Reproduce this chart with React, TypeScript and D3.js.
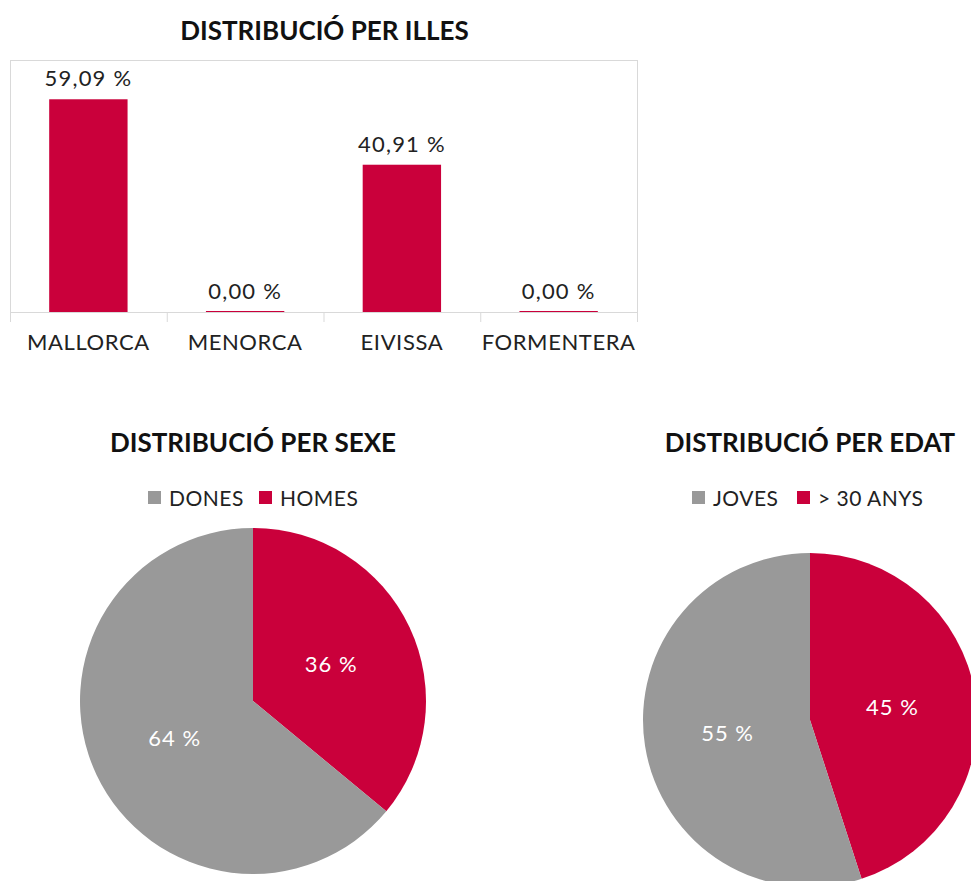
import * as d3 from "d3";

const RED = "#CA003B";
const GRAY = "#999999";
const FONT = "Lato, 'Open Sans', sans-serif";

// bar chart data
const islands = ["MALLORCA", "MENORCA", "EIVISSA", "FORMENTERA"];
const islandShares = [59.09, 0, 40.91, 0];

// sex pie
const sexLabels = ["HOMES", "DONES"];
const sexShares = [36, 64];

// age pie
const ageLabels = ["> 30 ANYS", "JOVES"];
const ageShares = [45, 55];

const fmt = (v: number) => v.toFixed(2).replace(".", ",") + " %";

const BarChart = () => {
  const left = 10;
  const right = 637;
  const top = 60;
  const bottom = 312;

  const x = d3
    .scaleBand<string>()
    .domain(islands)
    .range([left, right])
    .paddingInner(0.5)
    .paddingOuter(0.25);
  const y = d3.scaleLinear().domain([0, 70]).range([bottom, top]);
  const step = x.step();

  return (
    <g>
      <text
        x={(left + right) / 2 + 1}
        y={40}
        textAnchor="middle"
        fontSize={26}
        fontWeight={700}
        fontFamily={FONT}
        fill="#111"
      >
        DISTRIBUCIÓ PER ILLES
      </text>
      <rect
        x={left + 0.5}
        y={top + 0.5}
        width={right - left}
        height={bottom - top}
        fill="none"
        stroke="#D9D9D9"
      />
      {islands.map((c, i) => {
        const h = bottom - y(islandShares[i]);
        return (
          <g key={c}>
            <rect
              x={x(c)}
              y={h > 1 ? y(islandShares[i]) : bottom - 1}
              width={x.bandwidth()}
              height={Math.max(h, 1)}
              fill={RED}
            />
            <text
              x={x(c)! + x.bandwidth() / 2}
              y={y(islandShares[i]) - 13}
              textAnchor="middle"
              fontSize={22}
              letterSpacing={1.2}
              fontFamily={FONT}
              fill="#222"
            >
              {fmt(islandShares[i])}
            </text>
            <text
              x={x(c)! + x.bandwidth() / 2}
              y={350}
              textAnchor="middle"
              fontSize={22}
              letterSpacing={0.6}
              fontFamily={FONT}
              fill="#222"
            >
              {c}
            </text>
          </g>
        );
      })}
      <line x1={left} x2={right} y1={bottom + 0.5} y2={bottom + 0.5} stroke="#D9D9D9" />
      {d3.range(islands.length + 1).map((i) => (
        <line
          key={i}
          x1={left + i * step + 0.5}
          x2={left + i * step + 0.5}
          y1={bottom}
          y2={bottom + 10}
          stroke="#D9D9D9"
        />
      ))}
    </g>
  );
};

type PieProps = {
  cx: number;
  cy: number;
  r: number;
  title: string;
  labels: string[];
  values: number[];
  legendX: number;
  legendGap: number;
};

const Pie = ({ cx, cy, r, title, labels, values, legendX, legendGap }: PieProps) => {
  const colors = [RED, GRAY];
  const arcs = d3
    .pie<number>()
    .sort(null)
    .startAngle(0)
    .endAngle(2 * Math.PI)(values);
  const arc = d3.arc<d3.PieArcDatum<number>>().innerRadius(0).outerRadius(r);
  const labelArc = d3
    .arc<d3.PieArcDatum<number>>()
    .innerRadius(r * 0.5)
    .outerRadius(r * 0.5);

  // legend lists gray first, then red
  const legendOrder = [1, 0];

  return (
    <g>
      <text
        x={cx}
        y={452}
        textAnchor="middle"
        fontSize={26}
        fontWeight={700}
        fontFamily={FONT}
        fill="#111"
      >
        {title}
      </text>
      {legendOrder.map((idx, k) => {
        const sx = legendX + k * legendGap;
        return (
          <g key={idx}>
            <rect x={sx} y={491} width={13} height={13} fill={colors[idx]} />
            <text
              x={sx + 21}
              y={506}
              fontSize={21}
              letterSpacing={0.5}
              fontFamily={FONT}
              fill="#222"
            >
              {labels[idx]}
            </text>
          </g>
        );
      })}
      <g transform={`translate(${cx},${cy})`}>
        {arcs.map((a, i) => (
          <path key={i} d={arc(a)!} fill={colors[i]} />
        ))}
        {arcs.map((a, i) => {
          const [px, py] = labelArc.centroid(a);
          return (
            <text
              key={"t" + i}
              x={px}
              y={py}
              dy="0.35em"
              textAnchor="middle"
              fontSize={22}
              letterSpacing={1}
              fontFamily={FONT}
              fill="#fff"
            >
              {values[i] + " %"}
            </text>
          );
        })}
      </g>
    </g>
  );
};

export default function App() {
  return (
    <svg
      width={971}
      height={881}
      style={{ position: "absolute", left: 0, top: 0, display: "block" }}
    >
      <rect width={971} height={881} fill="#fff" />
      <BarChart />
      <Pie
        cx={253}
        cy={701}
        r={173}
        title="DISTRIBUCIÓ PER SEXE"
        labels={sexLabels}
        values={sexShares}
        legendX={148}
        legendGap={111}
      />
      <Pie
        cx={810}
        cy={720}
        r={167}
        title="DISTRIBUCIÓ PER EDAT"
        labels={ageLabels}
        values={ageShares}
        legendX={692}
        legendGap={105}
      />
    </svg>
  );
}
